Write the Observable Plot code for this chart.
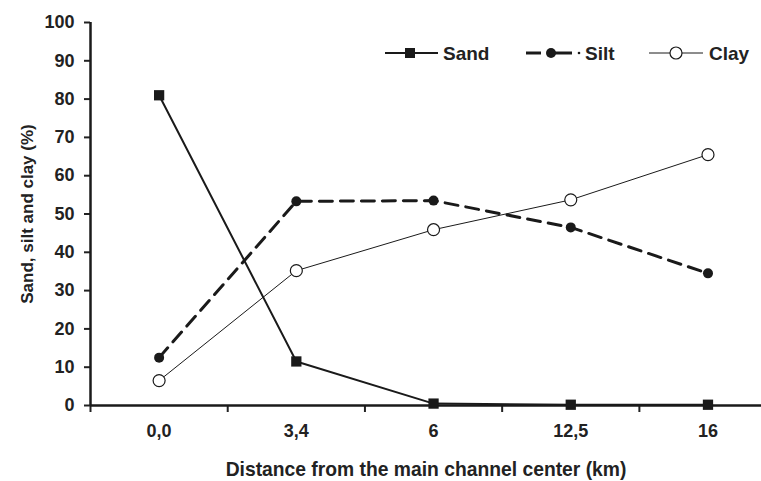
<!DOCTYPE html>
<html>
<head>
<meta charset="utf-8">
<script src="https://cdn.jsdelivr.net/npm/d3@7"></script>
<script src="https://cdn.jsdelivr.net/npm/@observablehq/plot@0.6"></script>
<style>
  body { margin: 0; background: #fff; }
  #wrap { position: relative; width: 761px; height: 481px; }
  #legend { position: absolute; left: 0; top: 0; pointer-events: none; }
  svg text { font-family: "Liberation Sans", Arial, sans-serif; }
  .chart g[aria-label="x-axis label"], .chart g[aria-label="x-axis label"] text { font-size: 19.3px !important; }
  .chart g[aria-label="y-axis label"], .chart g[aria-label="y-axis label"] text { font-size: 17px !important; }
</style>
</head>
<body>
<div id="wrap"></div>
<script>
const categories = ["0,0", "3,4", "6", "12,5", "16"];
const sand = [81, 11.5, 0.5, 0.2, 0.2];
const silt = [12.5, 53.3, 53.5, 46.5, 34.5];
const clay = [6.5, 35.2, 45.9, 53.7, 65.5];
const yTicks = d3.range(0, 101, 10);
const seriesNames = ["Sand", "Silt", "Clay"];

const rows = (vals, name) => vals.map((v, i) => ({i, v, name}));
const sandRows = rows(sand, "Sand");
const siltRows = rows(silt, "Silt");
const clayRows = rows(clay, "Clay");
const ink = "#1a1a1a";
const txt = "#222";

const chart = Plot.plot({
  className: "chart",
  width: 761,
  height: 481,
  marginLeft: 90,
  marginRight: 0,
  marginTop: 22,
  marginBottom: 76,
  style: {fontFamily: "'Liberation Sans', Arial, sans-serif", fontSize: "18px", fontWeight: "bold", color: txt, background: "#fff"},
  x: {domain: [-0.5, 4.39], axis: null},
  y: {domain: [0, 100], axis: null},
  marks: [
    Plot.axisY({ticks: yTicks, tickSize: 6, strokeWidth: 2, tickFormat: () => "", label: "Sand, silt and clay (%)", labelAnchor: "center", labelArrow: false, labelOffset: 70}),
    Plot.axisX({ticks: d3.range(-0.5, 4.5, 1), tickSize: 7, strokeWidth: 2, tickFormat: () => "", label: "Distance from the main channel center (km)", labelAnchor: "center", labelArrow: false, labelOffset: 70}),
    Plot.text(yTicks, {y: d => d, text: d => String(d), frameAnchor: "left", textAnchor: "end", dx: -16, fontSize: 18, fontWeight: "bold", fill: txt}),
    Plot.text(categories, {x: (d, i) => i, text: d => d, frameAnchor: "bottom", dy: 31, fontSize: 18, fontWeight: "bold", fill: txt}),
    Plot.ruleY([0], {stroke: ink, strokeWidth: 2.5}),
    Plot.ruleX([-0.5], {stroke: ink, strokeWidth: 2.5}),
    Plot.line(clayRows, {x: "i", y: "v", stroke: ink, strokeWidth: 1}),
    Plot.line(siltRows, {x: "i", y: "v", stroke: ink, strokeWidth: 3, strokeDasharray: "13,8"}),
    Plot.line(sandRows, {x: "i", y: "v", stroke: ink, strokeWidth: 2}),
    Plot.dot(clayRows, {x: "i", y: "v", r: 6, fill: "#fff", stroke: ink, strokeWidth: 1.2}),
    Plot.dot(siltRows, {x: "i", y: "v", r: 5, fill: ink, stroke: "none"}),
    Plot.dot(sandRows, {x: "i", y: "v", symbol: "square", r: 5.8, fill: ink, stroke: "none"})
  ]
});

const wrap = document.getElementById("wrap");
wrap.appendChild(chart);

// Legend overlay
const leg = d3.select(wrap).append("svg")
  .attr("id", "legend").attr("width", 761).attr("height", 481);
const ly = 53;
const items = [
  {name: seriesNames[0], x1: 385, x2: 438, mx: 410, tx: 443, kind: "square", sw: 2},
  {name: seriesNames[1], x1: 526, x2: 572, mx: 551, tx: 585, kind: "dot", sw: 3},
  {name: seriesNames[2], x1: 649, x2: 703, mx: 676, tx: 709, kind: "circle", sw: 1}
];
items.forEach(d => {
  const g = leg.append("g");
  if (d.kind === "dot") {
    g.append("line").attr("x1", d.x1).attr("x2", d.x1 + 15).attr("y1", ly).attr("y2", ly).attr("stroke", ink).attr("stroke-width", 3);
    g.append("line").attr("x1", d.mx).attr("x2", d.x2).attr("y1", ly).attr("y2", ly).attr("stroke", ink).attr("stroke-width", 3);
    g.append("circle").attr("cx", 579).attr("cy", ly).attr("r", 1.3).attr("fill", ink);
    g.append("circle").attr("cx", d.mx).attr("cy", ly).attr("r", 5).attr("fill", ink);
  } else {
    g.append("line").attr("x1", d.x1).attr("x2", d.x2).attr("y1", ly).attr("y2", ly).attr("stroke", ink).attr("stroke-width", d.sw);
    if (d.kind === "square") {
      g.append("rect").attr("x", d.mx - 5).attr("y", ly - 5).attr("width", 10).attr("height", 10).attr("fill", ink);
    } else {
      g.append("circle").attr("cx", d.mx).attr("cy", ly).attr("r", 6).attr("fill", "#fff").attr("stroke", ink).attr("stroke-width", 1.2);
    }
  }
  g.append("text").attr("x", d.tx).attr("y", ly).attr("dy", "0.36em")
    .attr("font-size", 19).attr("font-weight", "bold").attr("fill", txt).text(d.name);
});
</script>
</body>
</html>
